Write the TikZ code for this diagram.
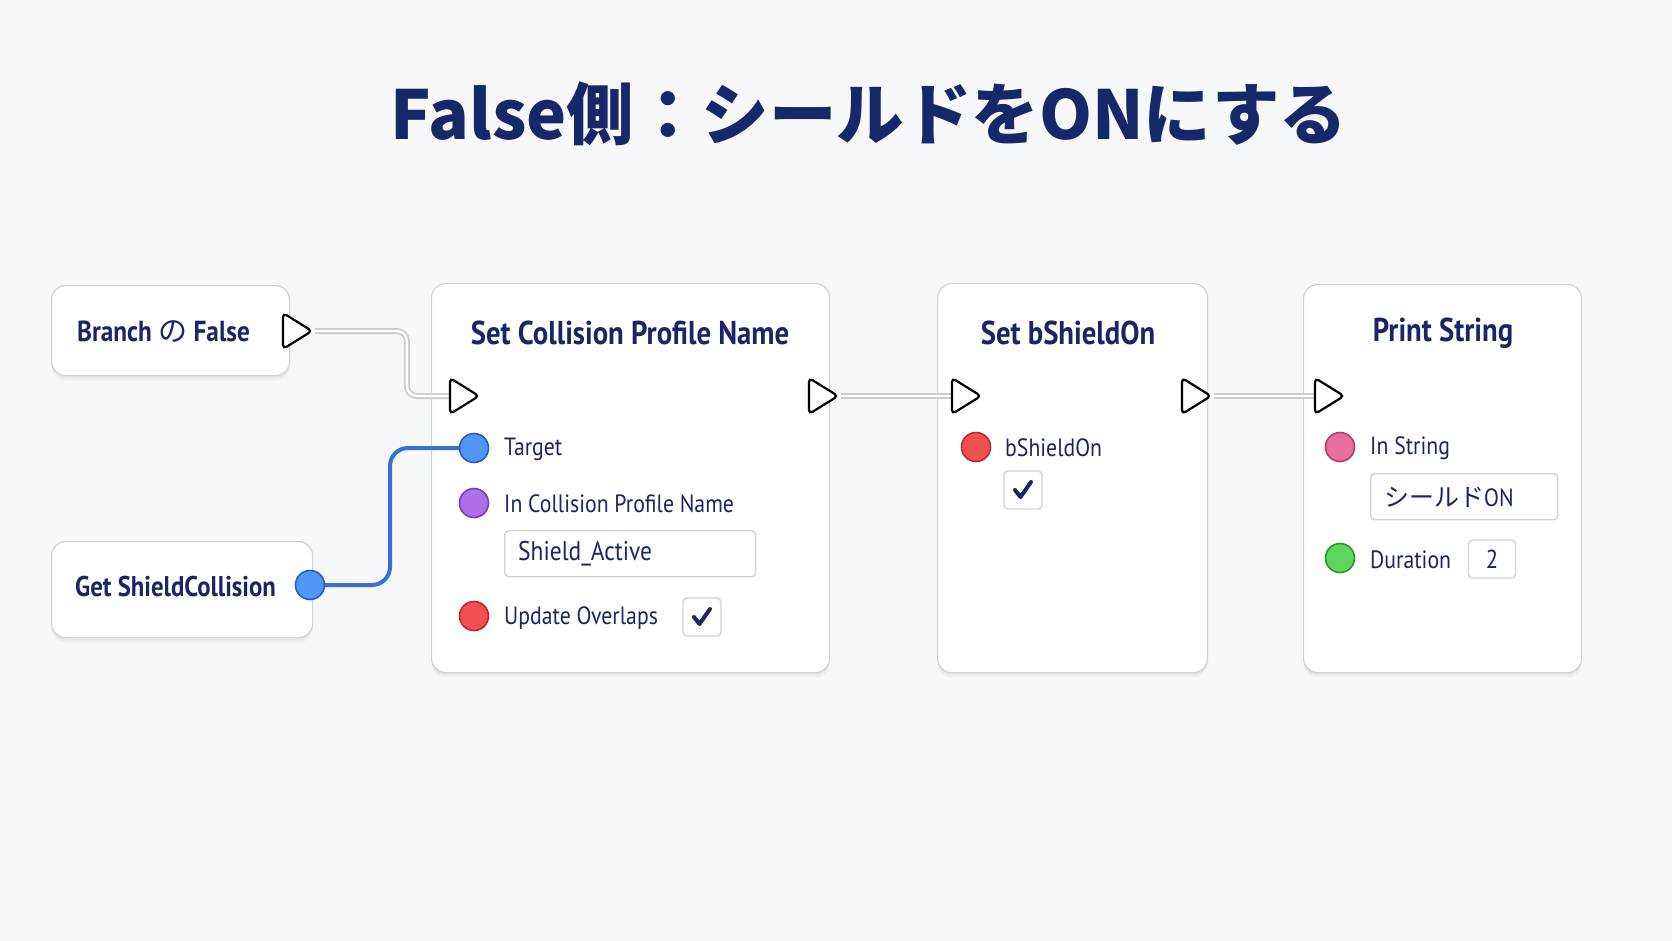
\documentclass[tikz,border=0pt]{standalone}
\usepackage{fontspec}
\setmainfont{PT Sans}[FakeStretch=0.87]
\newfontfamily\cjk{Noto Sans CJK JP}
\usetikzlibrary{shapes.geometric}
\definecolor{navy}{RGB}{27,36,102}
\definecolor{titlec}{RGB}{22,40,105}
\definecolor{bgc}{RGB}{247,248,250}
\definecolor{boxb}{RGB}{206,210,218}
\definecolor{pblue}{RGB}{80,150,245}\definecolor{pblueD}{RGB}{40,90,200}
\definecolor{ppurple}{RGB}{175,110,230}\definecolor{ppurpleD}{RGB}{120,60,185}
\definecolor{pred}{RGB}{240,80,80}\definecolor{predD}{RGB}{190,40,40}
\definecolor{ppink}{RGB}{232,110,160}\definecolor{ppinkD}{RGB}{180,60,110}
\definecolor{pgreen}{RGB}{95,215,95}\definecolor{pgreenD}{RGB}{40,150,40}
\definecolor{wireb}{RGB}{59,110,215}
\pgfdeclarelayer{back}\pgfdeclarelayer{wire}\pgfdeclarelayer{front}
\pgfsetlayers{back,main,wire,front}
\tikzset{
  card/.style={rectangle, rounded corners=14pt, draw=boxb, line width=1.2pt, fill=white,
    anchor=north west, inner sep=0pt,
    preaction={fill=black, fill opacity=0.035, transform canvas={yshift=-5pt}},
    preaction={fill=black, fill opacity=0.04, transform canvas={yshift=-2.5pt}}},
  ntitle/.style={text=navy, font=\bfseries\fontsize{33}{38}\selectfont, inner sep=0pt},
  lab/.style={text=navy, font=\fontsize{25}{29}\selectfont, anchor=west, inner sep=0pt},
  execpin/.style={isosceles triangle, isosceles triangle stretches, minimum width=36pt,
    minimum height=29pt, inner sep=0pt, draw=black, line width=2.2pt, fill=white,
    rounded corners=4pt},
  datapin/.style={circle, minimum size=29pt, inner sep=0pt, line width=1.6pt},
  fieldbox/.style={rectangle, rounded corners=4pt, draw=boxb, line width=1.4pt, fill=white,
    anchor=north west, inner sep=0pt},
  chk/.style={rectangle, rounded corners=4pt, draw=boxb, line width=1.4pt, fill=white,
    minimum size=38pt, inner sep=0pt},
  execwire/.style={draw=gray!40, line width=6pt, rounded corners=10pt,
    postaction={draw=white, line width=2.4pt}},
  datawire/.style={draw=wireb, line width=4pt, rounded corners=18pt},
}
\newcommand{\tick}[1]{\draw[navy, line width=4pt, line cap=round, line join=round]
  ([xshift=-8pt,yshift=0pt]#1.center) -- ([xshift=-2.5pt,yshift=-7pt]#1.center) -- ([xshift=8pt,yshift=8pt]#1.center);}
\begin{document}
\begin{tikzpicture}[x=1pt,y=-1pt]
\begin{pgfonlayer}{back}
\fill[bgc] (0,0) rectangle (1672,941);
\end{pgfonlayer}
\useasboundingbox (0,0) rectangle (1672,941);

\node[text=titlec, font=\cjk\bfseries\fontsize{67.5}{76}\selectfont, inner sep=0pt] (title) at (869,114) {False側：シールドをONにする};

% cards
\node[card, minimum width=238pt, minimum height=90pt] (branch) at (51,285) {};
\node[card, minimum width=261pt, minimum height=96pt] (getsc) at (51,541) {};
\node[card, minimum width=398pt, minimum height=389pt] (scp) at (431,283) {};
\node[card, minimum width=270pt, minimum height=389pt] (sb) at (937,283) {};
\node[card, minimum width=278pt, minimum height=388pt] (ps) at (1303,284) {};

% titles
\node[lab, font=\bfseries\fontsize{29}{33}\selectfont] (branchT) at (77,332) {Branch {\cjk\mdseries の} False};
\node[lab, font=\bfseries\fontsize{28.5}{33}\selectfont] (getscT) at (75,587) {Get ShieldCollision};
\node[ntitle] (scpT) at (630,333) {Set Collision Profile Name};
\node[ntitle] (sbT) at (1068,333) {Set bShieldOn};
\node[ntitle] (psT) at (1443,333) {Print String};

% labels
\node[lab] (lTarget) at (504,449) {Target};
\node[lab] (lICPN) at (504,504) {In Collision Profile Name};
\node[fieldbox, minimum width=251pt, minimum height=46pt] (fShield) at (504,530) {};
\node[lab, font=\fontsize{27}{31}\selectfont] (tShield) at (518,554) {Shield\_Active};
\node[lab] (lUO) at (504,618) {Update Overlaps};
\node[chk] (cUO) at (702,617) {};
\tick{cUO}

\node[lab] (lbS) at (1005,448) {bShieldOn};
\node[chk] (cbS) at (1023,490) {};
\tick{cbS}

\node[lab] (lIS) at (1370,448) {In String};
\node[fieldbox, minimum width=187pt, minimum height=46pt] (fIS) at (1370,473) {};
\node[lab] (tIS) at (1384,497) {{\cjk シールド}ON};
\node[lab] (lDur) at (1370,560) {Duration};
\node[chk, minimum width=47pt] (cDur) at (1492,559) {};
\node[text=navy, font=\fontsize{26}{30}\selectfont, inner sep=0pt] (tDur) at (cDur.center) {2};

% pins
\begin{pgfonlayer}{front}
\node[execpin] (bOut) at (293,331) {};
\node[datapin, fill=pblue, draw=pblueD] (gOut) at (310,585) {};
\node[execpin] (scpIn) at (460,396) {};
\node[execpin] (scpOut) at (819,396) {};
\node[datapin, fill=pblue, draw=pblueD] (pTarget) at (474,448) {};
\node[datapin, fill=ppurple, draw=ppurpleD] (pICPN) at (474,503) {};
\node[datapin, fill=pred, draw=predD] (pUO) at (474,616) {};
\node[execpin] (sbIn) at (962,396) {};
\node[execpin] (sbOut) at (1192,396) {};
\node[datapin, fill=pred, draw=predD] (pbS) at (976,447) {};
\node[execpin] (psIn) at (1325,396) {};
\node[datapin, fill=ppink, draw=ppinkD] (pIS) at (1340,447) {};
\node[datapin, fill=pgreen, draw=pgreenD] (pDur) at (1340,558) {};
\end{pgfonlayer}

% wires
\begin{pgfonlayer}{wire}
\draw[execwire] (bOut.east) -- ([xshift=92pt]bOut.east) |- (scpIn.west);
\draw[execwire] (scpOut.east) -- (sbIn.west);
\draw[execwire] (sbOut.east) -- (psIn.west);
\draw[datawire] (gOut.center) -- ([xshift=80pt]gOut.center) |- (pTarget.center);
\end{pgfonlayer}
\end{tikzpicture}
\end{document}
